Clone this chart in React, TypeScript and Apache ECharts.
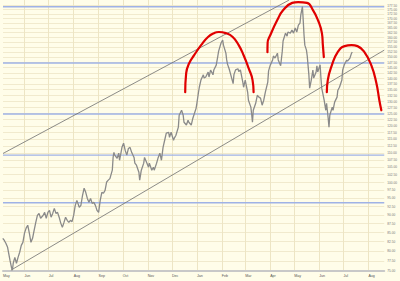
import React, { useEffect, useRef } from 'react';
import * as echarts from 'echarts';

// ---- axis definitions ----
const monthLabels = ['May', 'Jun', 'Jul', 'Aug', 'Sep', 'Oct', 'Nov', 'Dec', 'Jan', 'Feb', 'Mar', 'Apr', 'May', 'Jun', 'Jul', 'Aug'];
const monthStarts = ['2007-05-01', '2007-06-01', '2007-07-01', '2007-08-01', '2007-09-01', '2007-10-01', '2007-11-01', '2007-12-01', '2008-01-01', '2008-02-01', '2008-03-01', '2008-04-01', '2008-05-01', '2008-06-01', '2008-07-01', '2008-08-01'];
const yTicks = [75, 77.5, 80, 82.5, 85, 87.5, 90, 92.5, 95, 97.5, 100, 102.5, 105, 107.5, 110, 112.5, 115, 117.5, 120, 122.5, 125, 127.5, 130, 132.5, 135, 137.5, 140, 142.5, 145, 147.5, 150, 152.5, 155, 157.5, 160, 162.5, 165, 167.5, 170, 172.5, 175, 177.5];
const X_MIN = 4.3; // days since 2007-05-01
const X_MAX = 477.6;
const Y_MIN = 75;
const Y_MAX = 180.6;

// ---- price (days since 2007-05-01, close) ----
const priceDays = [4, 6, 8, 10, 13, 15, 16, 17, 19, 21, 23, 25, 27, 29, 31, 33, 35, 37, 39, 41, 43, 45, 47, 49, 51, 54, 56, 58, 60, 62, 64, 66, 68, 70, 72, 74, 76, 78, 80, 82, 84, 86, 88, 90, 92, 94, 96, 99, 101, 103, 105, 107, 109, 111, 113, 115, 117, 119, 121, 123, 125, 127, 129, 131, 133, 135, 137, 140, 141, 142, 143, 146, 148, 149, 152, 154, 156, 158, 160, 162, 164, 167, 168, 170, 173, 174, 176, 179, 180, 183, 185, 186, 189, 191, 192, 195, 197, 199, 201, 203, 205, 207, 210, 211, 213, 216, 217, 219, 222, 223, 226, 228, 229, 232, 234, 235, 238, 240, 242, 244, 245, 247, 248, 250, 253, 254, 256, 259, 260, 262, 265, 266, 269, 271, 272, 275, 277, 278, 281, 282, 283, 285, 287, 290, 291, 293, 296, 297, 299, 302, 303, 305, 308, 309, 312, 313, 314, 315, 318, 320, 322, 324, 326, 328, 330, 333, 334, 336, 339, 340, 342, 345, 346, 349, 351, 352, 355, 357, 358, 361, 363, 365, 367, 369, 371, 373, 374, 376, 377, 378, 379, 381, 382, 383, 384, 385, 387, 388, 389, 390, 393, 394, 395, 398, 399, 400, 403, 405, 406, 408, 409, 410, 413, 414, 416, 419, 420, 422, 425, 426, 428, 431, 432, 435, 437, 438];
const priceValues = [83.4, 82.8, 82.0, 81.0, 77.6, 75.7, 75.2, 76.9, 78.4, 76.9, 78.4, 79.7, 81.5, 82.3, 84.8, 86.2, 87.0, 84.8, 82.3, 83.4, 85.6, 87.8, 89.8, 90.4, 89.0, 89.8, 90.7, 89.0, 90.7, 91.3, 89.3, 90.4, 91.9, 90.4, 90.7, 89.3, 87.6, 86.4, 87.8, 89.3, 88.4, 87.8, 88.4, 88.0, 89.8, 92.8, 94.3, 92.2, 92.8, 95.8, 98.1, 96.8, 94.9, 93.7, 94.9, 93.4, 93.7, 92.8, 91.3, 90.7, 94.3, 96.8, 96.5, 97.4, 100.1, 100.7, 101.2, 104.0, 108.4, 110.2, 109.2, 108.1, 109.9, 107.4, 112.0, 113.5, 110.9, 109.2, 111.6, 112.0, 110.2, 108.4, 106.4, 105.7, 103.3, 100.7, 104.0, 106.4, 108.4, 106.4, 105.0, 106.4, 104.0, 105.0, 104.0, 106.4, 108.4, 109.9, 107.4, 112.0, 114.6, 117.3, 117.6, 115.7, 117.6, 114.6, 115.4, 116.5, 119.6, 124.3, 126.3, 124.3, 121.5, 120.4, 122.3, 121.5, 120.4, 123.1, 125.1, 127.1, 129.2, 133.9, 136.1, 139.3, 141.7, 140.2, 140.7, 143.0, 140.7, 143.9, 141.7, 143.9, 146.2, 150.6, 153.0, 157.1, 158.6, 156.0, 152.0, 148.7, 146.7, 144.5, 141.8, 137.7, 141.8, 144.0, 144.5, 143.2, 144.0, 138.4, 136.1, 139.3, 134.0, 130.5, 127.6, 124.7, 121.5, 126.3, 129.2, 132.6, 131.8, 131.4, 128.4, 130.5, 134.0, 138.4, 143.5, 146.1, 148.7, 150.6, 149.6, 152.0, 148.7, 145.9, 153.0, 158.1, 162.2, 160.6, 162.8, 162.2, 163.8, 162.2, 164.9, 162.8, 166.5, 167.6, 172.1, 176.8, 169.2, 161.2, 156.0, 153.5, 150.6, 146.1, 141.8, 135.7, 139.3, 141.6, 143.9, 140.2, 143.0, 145.9, 143.0, 146.4, 140.2, 135.7, 130.5, 126.3, 129.2, 123.1, 119.6, 124.3, 127.6, 126.3, 129.7, 131.8, 134.8, 136.1, 139.3, 143.9, 146.4, 148.6, 148.1, 149.6, 152.0, 152.5];

// ---- annotations ----
const levelLines = [176.7, 147.2, 124.8, 109.2, 93.6];
const upperChannel = [[4.3, 109.8], [359.6, 180.6]];
const lowerChannel = [[14.1, 75.2], [477.6, 153.5]];
const arc1 = [[230.5, 133.9], [231.7, 142.5], [235.4, 147.1], [241.6, 151.0], [250.2, 156.0], [258.8, 160.2], [266.2, 162.2], [272.3, 162.8], [280.9, 162.2], [289.5, 160.2], [296.9, 156.0], [303.0, 151.0], [309.2, 144.8], [314.1, 139.3], [315.4, 133.9]];
const arc2 = [[332.6, 152.5], [332.8, 157.1], [336.2, 161.2], [344.8, 169.2], [352.2, 174.8], [363.3, 178.9], [370.7, 179.4], [381.7, 178.9], [389.1, 174.8], [395.3, 169.2], [400.2, 162.2], [401.4, 156.0], [402.6, 150.1]];
const arc3 = [[406.3, 133.9], [407.5, 139.3], [412.5, 146.1], [419.8, 152.5], [428.4, 155.5], [437.0, 156.0], [444.4, 155.5], [453.0, 152.5], [461.6, 146.1], [467.8, 138.0], [471.5, 130.5], [474.0, 126.3]];

const dayOf = (s: string) => {
  const [y, m, d] = s.split('-').map(Number);
  return (Date.UTC(y, m - 1, d) - Date.UTC(2007, 4, 1)) / 86400000;
};

export default function App() {
  const ref = useRef<HTMLDivElement>(null);
  useEffect(() => {
    if (!ref.current) return;
    const chart = echarts.init(ref.current, undefined, { renderer: 'svg' });
    const startDays = monthStarts.map(dayOf);
    const gridDays = startDays.filter((d) => d > X_MIN);
    const labelDays = [X_MIN, ...gridDays];
    const L = (v: number) => Math.log(v);
    const toPts = (arr: number[][]) => arr.map(([d, v]) => [d, L(v)]);
    const fontFamily = 'Liberation Sans, Arial, sans-serif';

    const levelSeries = levelLines.map((v, i) => ({
      type: 'line',
      name: 'level' + i,
      data: [[X_MIN, L(v)], [X_MAX, L(v)]],
      showSymbol: false,
      lineStyle: { color: '#9fb2e6', width: 1.4 },
      silent: true,
      z: 1,
    }));

    chart.setOption({
      animation: false,
      backgroundColor: '#fffde9',
      grid: { left: 0, right: 15, top: 0, bottom: 10 },
      xAxis: {
        type: 'value',
        min: X_MIN,
        max: X_MAX,
        axisLine: { show: true, onZero: false, lineStyle: { color: '#c8c8c8', width: 2 } },
        axisTick: { show: false, customValues: gridDays },
        axisLabel: {
          customValues: labelDays,
          formatter: (v: number) => {
            const i = labelDays.findIndex((d) => Math.abs(d - v) < 0.01);
            return i >= 0 ? monthLabels[i] : '';
          },
          fontSize: 3.6,
          color: '#555',
          align: 'left',
          margin: 3,
          fontFamily,
        },
        splitLine: { show: true, lineStyle: { color: '#ede5c4', width: 1 } },
      },
      yAxis: {
        type: 'value',
        position: 'right',
        min: L(Y_MIN),
        max: L(Y_MAX),
        axisLine: { show: false },
        axisTick: { show: false, customValues: yTicks.map(L) },
        axisLabel: {
          customValues: yTicks.map(L),
          formatter: (v: number) => Math.exp(v).toFixed(2),
          fontSize: 3.2,
          color: '#777',
          margin: 3,
          fontFamily,
        },
        splitLine: { show: true, lineStyle: { color: '#f1eacd', width: 1 } },
      },
      series: [
        ...levelSeries,
        {
          type: 'line',
          name: 'upper',
          data: toPts(upperChannel),
          showSymbol: false,
          lineStyle: { color: '#6e6e6e', width: 0.8 },
          silent: true,
          z: 2,
        },
        {
          type: 'line',
          name: 'lower',
          data: toPts(lowerChannel),
          showSymbol: false,
          lineStyle: { color: '#6e6e6e', width: 0.8 },
          silent: true,
          z: 2,
        },
        {
          type: 'line',
          name: 'price',
          data: priceDays.map((d, i) => [d, L(priceValues[i])]),
          showSymbol: false,
          lineStyle: { color: '#8a8a8a', width: 1.3 },
          silent: true,
          z: 3,
        },
        ...[arc1, arc2, arc3].map((a, i) => ({
          type: 'line',
          name: 'arc' + (i + 1),
          data: toPts(a),
          smooth: true,
          showSymbol: false,
          lineStyle: { color: '#e00000', width: 2.2, cap: 'round' },
          silent: true,
          z: 4,
        })),
      ],
    });
    return () => chart.dispose();
  }, []);
  return <div ref={ref} style={{ position: 'absolute', left: 0, top: 0, width: 400, height: 281 }} />;
}
